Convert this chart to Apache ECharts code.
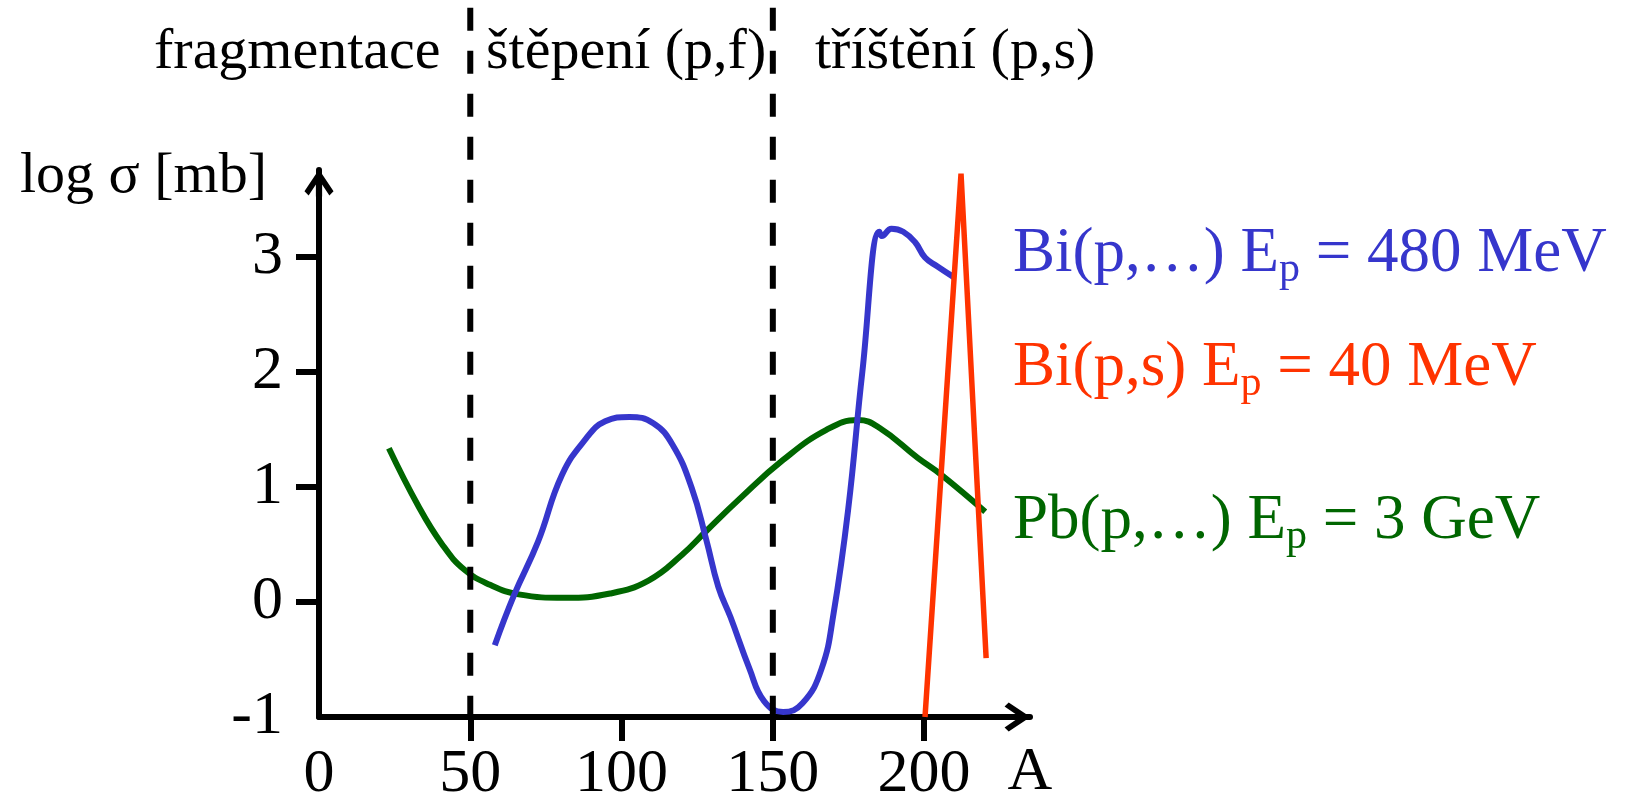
<!DOCTYPE html>
<html>
<head>
<meta charset="utf-8">
<script src="https://cdn.jsdelivr.net/npm/echarts@6/dist/echarts.min.js"></script>
<style>
  html, body { margin: 0; padding: 0; background: #fff; }
  #chart { width: 1629px; height: 804px; }
</style>
</head>
<body>
<div id="chart"></div>
<script>
// mass number A vs log sigma
var xTicks = [0, 50, 100, 150, 200];
var yTicks = [-1, 0, 1, 2, 3];
var boundaries = [50, 150];     // dashed region borders
var boundaryTop = 5.16;         // borders run up to the top edge
var regionNames = ['fragmentace', 'štěpení (p,f)', 'tříštění (p,s)'];

var bi480 = [
    [58.1, -0.376], [64.5, 0.06], [72.4, 0.522], [80.3, 1.101], [88.3, 1.419],
    [94.6, 1.568], [102.6, 1.606], [110.5, 1.55], [116.9, 1.362], [123.2, 0.989],
    [128, 0.54], [132, 0.129], [136, -0.132], [142.3, -0.582], [147.1, -0.862],
    [153.4, -0.956], [159.8, -0.881], [166.1, -0.582], [170.1, -0.096], [174.9, 0.802],
    [179.6, 2.0], [185.2, 3.214], [186, 3.177], [189.2, 3.24], [193.1, 3.214],
    [197.1, 3.12], [200.3, 2.99], [204.3, 2.915], [209.8, 2.82]
];
var bi40 = [[200.3, -1], [212.2, 3.719], [220.5, -0.488]];
var pb3 = [
    [23.1, 1.334], [32.7, 0.839], [40.6, 0.503], [48.1, 0.278], [56.5, 0.148],
    [66, 0.065], [81.2, 0.035], [96.2, 0.072], [108.9, 0.185], [120, 0.409],
    [128, 0.615], [139.1, 0.896], [153.4, 1.232], [167.7, 1.493], [178.1, 1.579],
    [185.2, 1.512], [197.9, 1.25], [205.8, 1.101], [220.2, 0.783]
];

var blue = '#3636cc';
var red = '#ff3300';
var green = '#006600';
var serif = 'Liberation Serif';

// label text: before subscript, subscript, after
var labels = [
    { pre: 'Bi(p,…) E', post: ' = 480 MeV', color: blue, y: 254 },
    { pre: 'Bi(p,s) E', post: ' = 40 MeV', color: red, y: 368 },
    { pre: 'Pb(p,…) E', post: ' = 3 GeV', color: green, y: 521 }
];

var dom = document.getElementById('chart');
var myChart = echarts.init(dom);

var arrow = 'path://M14,0 L28,21 L24,25 L17,14.5 L17,26 L11,26 L11,14.5 L4,25 L0,21 Z';

var graphics = [];
var headerX = [154, 486, 815];
regionNames.forEach(function (name, i) {
    graphics.push({
        type: 'text',
        x: headerX[i],
        y: 53,
        style: {
            text: name,
            fontFamily: serif,
            fontSize: 58,
            fill: '#000',
            align: 'left',
            verticalAlign: 'middle'
        }
    });
});
labels.forEach(function (l) {
    graphics.push({
        type: 'text',
        x: 1013,
        y: l.y,
        style: {
            text: '{a|' + l.pre + '}{b|p}{a|' + l.post + '}',
            fill: l.color,
            align: 'left',
            verticalAlign: 'middle',
            rich: {
                a: { fontFamily: serif, fontSize: 63, fill: l.color },
                b: { fontFamily: serif, fontSize: 42, fill: l.color, padding: [32, 0, 0, 0] }
            }
        }
    });
});

var series = [
    {
        type: 'line', data: pb3, smooth: 0.45, showSymbol: false, z: 3,
        lineStyle: { color: green, width: 6 }
    },
    {
        type: 'line', data: bi480, smooth: 0.45, showSymbol: false, z: 4,
        lineStyle: { color: blue, width: 6 }
    },
    {
        type: 'line', data: bi40, showSymbol: false, z: 5,
        lineStyle: { color: red, width: 5.5 }
    }
];
boundaries.forEach(function (b) {
    series.push({
        type: 'line',
        data: [[b, boundaryTop], [b, -1]],
        clip: false,
        showSymbol: false,
        silent: true,
        z: 6,
        lineStyle: { color: '#000', width: 6, type: [23, 20], cap: 'butt' }
    });
});

var option = {
    animation: false,
    backgroundColor: '#fff',
    grid: { left: 319, right: 599, top: 170, bottom: 87, outerBoundsMode: 'none' },
    xAxis: {
        type: 'value',
        min: 0,
        max: 235,
        name: 'A',
        nameLocation: 'end',
        nameGap: 0,
        nameTextStyle: {
            fontFamily: serif, fontSize: 62, color: '#000',
            align: 'center', verticalAlign: 'top', padding: [25, 0, 0, 0]
        },
        splitLine: { show: false },
        axisLine: {
            onZero: false,
            lineStyle: { color: '#000', width: 6 },
            symbol: ['none', arrow],
            symbolSize: [30, 27],
            symbolOffset: [0, -13]
        },
        axisTick: {
            customValues: xTicks.slice(1),
            length: 24,
            lineStyle: { color: '#000', width: 6 }
        },
        axisLabel: {
            customValues: xTicks,
            margin: 27,
            fontFamily: serif,
            fontSize: 62,
            color: '#000'
        }
    },
    yAxis: {
        type: 'value',
        min: -1,
        max: 3.75,
        name: 'log σ [mb]',
        nameLocation: 'end',
        nameGap: -7,
        nameTextStyle: {
            fontFamily: serif, fontSize: 58, color: '#000',
            align: 'right', verticalAlign: 'middle', padding: [0, 52, 0, 0]
        },
        splitLine: { show: false },
        axisLine: {
            onZero: false,
            lineStyle: { color: '#000', width: 6 },
            symbol: ['none', arrow],
            symbolSize: [30, 27],
            symbolOffset: [0, -13]
        },
        axisTick: {
            customValues: yTicks.slice(1),
            length: 23,
            lineStyle: { color: '#000', width: 6 }
        },
        axisLabel: {
            customValues: yTicks,
            margin: 36,
            fontFamily: serif,
            fontSize: 62,
            color: '#000'
        }
    },
    graphic: graphics,
    series: series
};

myChart.setOption(option);

window.addEventListener('resize', function () {
    myChart.resize();
});
</script>
</body>
</html>
